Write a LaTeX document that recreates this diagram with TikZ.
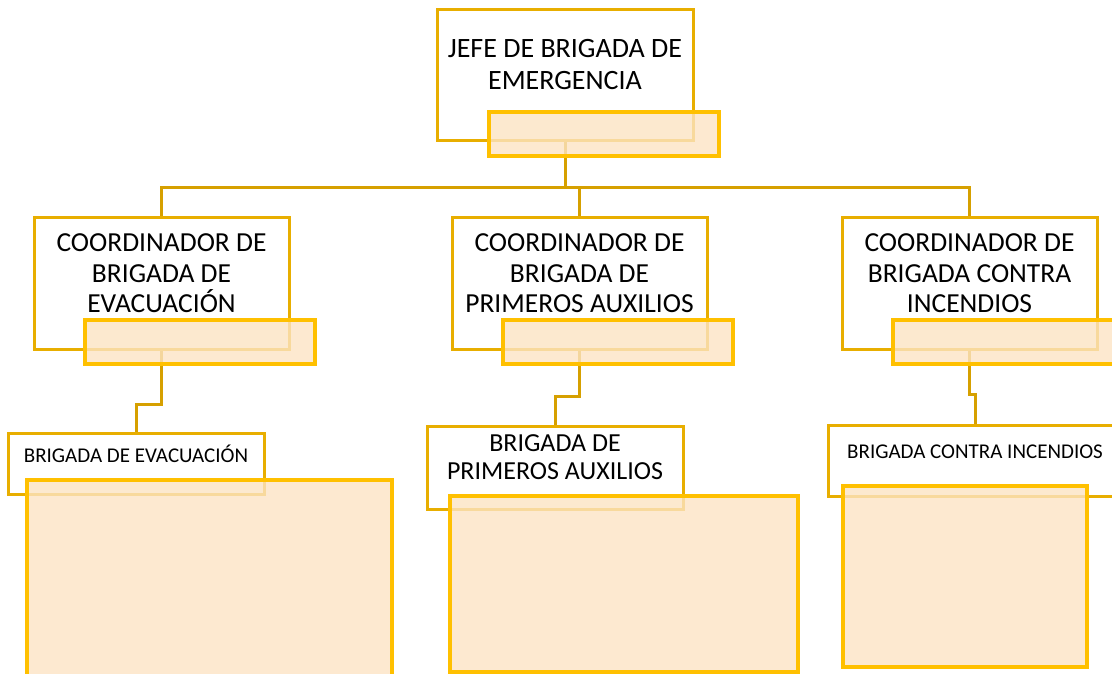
\documentclass[tikz,border=0pt]{standalone}
\usepackage{fontspec}
\setmainfont{Carlito}
\usepackage{xcolor}
\usepackage{tikz}
\usetikzlibrary{positioning}
\definecolor{gold}{RGB}{232,174,0}
\definecolor{golddark}{RGB}{214,160,0}
\definecolor{amber}{RGB}{255,192,0}
\definecolor{peach}{RGB}{252,228,196}
\tikzset{
    role/.style={rectangle, draw=gold, line width=3pt, fill=white, inner sep=0pt},
    tag/.style={rectangle, draw=amber, line width=3.3pt, fill=peach, fill opacity=0.8, inner sep=0pt},
    rolename/.style={inner sep=0pt, align=center, text=black},
    link/.style={draw=golddark, line width=3pt}
}

\begin{document}
\begin{tikzpicture}[x=1pt, y=-1pt,
    big/.style={rolename, font=\fontsize{27.5}{30.5}\selectfont},
    small/.style={rolename, font=\fontsize{21}{24}\selectfont}
]
    \clip (0,0) rectangle (1112,673);

    % Jefe
    \node[role, minimum width=256pt, minimum height=131pt] (jefe) at (565,74.5) {};

    % Coordinadores
    \node[role, minimum width=255pt, minimum height=132pt] (coordA) at (161.5,283) {};
    \node[role, minimum width=255pt, minimum height=132pt] (coordB) at (579.5,283) {};
    \node[role, minimum width=255pt, minimum height=132pt] (coordC) at (969.5,283) {};

    % Brigadas
    \node[role, minimum width=256pt, minimum height=61pt] (brigA) at (136,463.5) {};
    \node[role, minimum width=256pt, minimum height=83pt] (brigB) at (555,467.5) {};
    \node[role, minimum width=294pt, minimum height=71pt] (brigC) at (975,460.5) {};

    % Connections
    \draw[link] (jefe.south) -- ++(0,46) -| (coordA.north);
    \draw[link] (jefe.south) -- ++(0,46) -| (coordB.north);
    \draw[link] (jefe.south) -- ++(0,46) -| (coordC.north);
    \draw[link] (coordA.south) -- ++(0,54) -| (brigA.north);
    \draw[link] (coordB.south) -- ++(0,46) -| (brigB.north);
    \draw[link] (coordC.south) -- ++(0,44) -| (brigC.north);

    % Overlay tags
    \node[tag, minimum width=230pt, minimum height=44pt] (jefetag) at (604,134) {};
    \node[tag, minimum width=230pt, minimum height=44pt] (coordAtag) at (200,342) {};
    \node[tag, minimum width=230pt, minimum height=44pt] (coordBtag) at (618,342) {};
    \node[tag, minimum width=230pt, minimum height=44pt] (coordCtag) at (1008,342) {};
    \node[tag, minimum width=365pt, minimum height=220pt] (brigAtag) at (209.5,590) {};
    \node[tag, minimum width=348pt, minimum height=176pt] (brigBtag) at (624,584) {};
    \node[tag, minimum width=244pt, minimum height=181pt] (brigCtag) at (965,576.5) {};

    % Texts
    \node[rolename, font=\fontsize{28}{32}\selectfont] (jefetxt) at (565,65) {JEFE DE BRIGADA DE\\EMERGENCIA};
    \node[big] (coordAtxt) at (161.5,273.5) {COORDINADOR DE\\BRIGADA DE\\EVACUACIÓN};
    \node[big] (coordBtxt) at (579.5,273.5) {COORDINADOR DE\\BRIGADA DE\\PRIMEROS AUXILIOS};
    \node[big] (coordCtxt) at (969.5,273.5) {COORDINADOR DE\\BRIGADA CONTRA\\INCENDIOS};
    \node[small, anchor=base] (brigAtxt) at (136,462) {BRIGADA DE EVACUACIÓN};
    \node[rolename, font=\fontsize{26}{28}\selectfont] (brigBtxt) at (555,457.5) {BRIGADA DE\\PRIMEROS AUXILIOS};
    \node[small, anchor=base] (brigCtxt) at (975,458) {BRIGADA CONTRA INCENDIOS};
\end{tikzpicture}
\end{document}
